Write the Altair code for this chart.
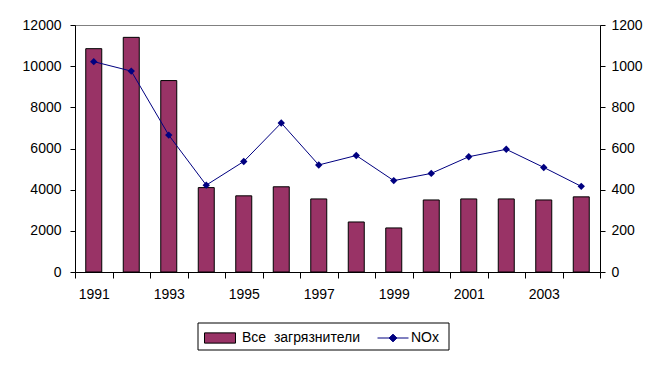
import altair as alt
import pandas as pd

years = [1991, 1992, 1993, 1994, 1995, 1996, 1997, 1998, 1999, 2000, 2001, 2002, 2003, 2004]
all_pollutants = [10850, 11400, 9300, 4100, 3700, 4140, 3550, 2430, 2140, 3500, 3550, 3550, 3500, 3650]
nox = [1022, 976, 665, 422, 537, 724, 520, 566, 444, 479, 560, 596, 508, 416]

bar_name = "Все \u00a0загрязнители"
line_name = "NOx"

df = pd.DataFrame({"year": years, "all": all_pollutants, "nox": nox,
                   "s_bar": bar_name, "s_line": line_name})

FONT = "Liberation Sans"

x_enc = alt.X("year:O", title=None,
              scale=alt.Scale(paddingInner=0, paddingOuter=0),
              axis=alt.Axis(labelAngle=0, tickBand="extent", tickSize=6,
                            labelPadding=9, labelOverlap=False,
                            labelExpr="datum.value % 2 == 1 ? datum.label : ''",
                            domainColor="black", tickColor="black"))

bars = alt.Chart(df).mark_bar(size=16, stroke="black", strokeWidth=1).encode(
    x=x_enc,
    y=alt.Y("all:Q", title=None,
            scale=alt.Scale(domain=[0, 12000], nice=False),
            axis=alt.Axis(orient="left", values=[0, 2000, 4000, 6000, 8000, 10000, 12000],
                          format="d", tickSize=5, labelPadding=9, grid=False,
                          domainColor="black", tickColor="black")),
    fill=alt.Fill("s_bar:N", title=None,
                  scale=alt.Scale(domain=[bar_name], range=["#993366"]),
                  legend=alt.Legend(orient="none", legendX=129, legendY=297,
                                    symbolType="M-1,-0.33H1V0.33H-1Z", symbolSize=961,
                                    symbolStrokeColor="black", symbolStrokeWidth=1,
                                    symbolFillColor="#993366",
                                    labelOffset=6, padding=0)),
)

line = alt.Chart(df).mark_line(color="#000080", strokeWidth=1,
                               point=alt.OverlayMarkDef(shape="diamond", size=55, filled=True,
                                                        color="#000080")).encode(
    x=x_enc,
    y=alt.Y("nox:Q", title=None,
            scale=alt.Scale(domain=[0, 1200], nice=False),
            axis=alt.Axis(orient="right", values=[0, 200, 400, 600, 800, 1000, 1200],
                          format="d", tickSize=5, labelPadding=6, grid=False,
                          domainColor="black", tickColor="black")),
    color=alt.Color("s_line:N", title=None,
                    scale=alt.Scale(domain=[line_name], range=["#000080"]),
                    legend=alt.Legend(orient="none", legendX=302, legendY=297,
                                      symbolType="M-1,0H1M-0.25,0L0,-0.25L0.25,0L0,0.25Z",
                                      symbolSize=961,
                                      symbolStrokeColor="#000080", symbolFillColor="#000080",
                                      symbolStrokeWidth=1, labelOffset=2, padding=0)),
)

box_df = pd.DataFrame({"k": [0]})
box = alt.Chart(box_df).mark_rect(fill="transparent", stroke="black", strokeWidth=1).encode(
    x=alt.value(123), x2=alt.value(374), y=alt.value(298), y2=alt.value(325))

chart = alt.layer(bars, line, box).resolve_scale(y="independent").properties(
    width=525, height=247,
    autosize=alt.AutoSizeParams(type="none"),
    padding={"left": 67, "top": 17, "right": 53, "bottom": 90},
    background="white",
).configure_view(stroke="#808080", strokeWidth=1).configure_axis(
    labelFont=FONT, labelFontSize=14, labelColor="black"
).configure_legend(
    labelFont=FONT, labelFontSize=14, labelColor="black"
)

chart.save("out.html", embed_options={"renderer": "svg", "actions": False})
